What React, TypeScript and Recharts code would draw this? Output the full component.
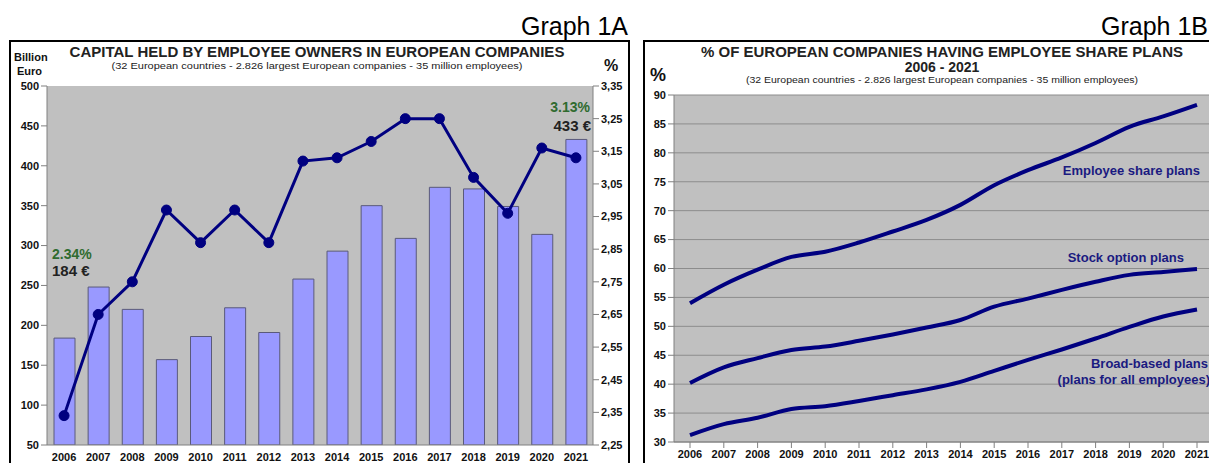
import React from "react";
import {
  ComposedChart,
  Bar,
  Line,
  XAxis,
  YAxis,
  CartesianGrid,
} from "recharts";

// ---------- Data ----------
const years = ["2006","2007","2008","2009","2010","2011","2012","2013","2014","2015","2016","2017","2018","2019","2020","2021"];

// Graph 1A
const capitalBillionEuro = [184, 248, 220, 157, 186, 222, 191, 258, 293, 350, 309, 373, 371, 349, 314, 433];
const capitalSharePct = [2.34, 2.65, 2.75, 2.97, 2.87, 2.97, 2.87, 3.12, 3.13, 3.18, 3.25, 3.25, 3.07, 2.96, 3.16, 3.13];
const leftTicks = [50, 100, 150, 200, 250, 300, 350, 400, 450, 500];
const rightTicks = [2.25, 2.35, 2.45, 2.55, 2.65, 2.75, 2.85, 2.95, 3.05, 3.15, 3.25, 3.35];

// Graph 1B
const employeeSharePlans = [54, 57.2, 59.8, 62, 62.9, 64.5, 66.4, 68.4, 71, 74.4, 77, 79.2, 81.7, 84.5, 86.3, 88.3];
const stockOptionPlans = [40.2, 42.9, 44.5, 45.9, 46.5, 47.5, 48.6, 49.8, 51.1, 53.4, 54.8, 56.3, 57.7, 58.9, 59.4, 59.9];
const broadBasedPlans = [31.2, 33.1, 34.2, 35.7, 36.2, 37.1, 38.1, 39.1, 40.4, 42.3, 44.2, 46.0, 47.9, 49.9, 51.7, 52.9];
const plansTicks = [30, 35, 40, 45, 50, 55, 60, 65, 70, 75, 80, 85, 90];

const capitalData = years.map((y, i) => ({
  year: y,
  capital: capitalBillionEuro[i],
  pct: capitalSharePct[i],
}));

const plansData = years.map((y, i) => ({
  year: y,
  esp: employeeSharePlans[i],
  sop: stockOptionPlans[i],
  bbp: broadBasedPlans[i],
}));

const FONT = "Arial, 'Liberation Sans', sans-serif";
const NAVY = "#000080";
const tickStyle = { fontFamily: FONT, fontSize: 11, fontWeight: 700, fill: "#111" };

const abs = (s: React.CSSProperties): React.CSSProperties => ({
  position: "absolute",
  fontFamily: FONT,
  whiteSpace: "nowrap",
  lineHeight: 1,
  ...s,
});

export default function App() {
  return (
    <div
      style={{
        position: "fixed",
        left: 0,
        top: 0,
        width: 1209,
        height: 463,
        overflow: "hidden",
        background: "#fff",
        fontFamily: FONT,
      }}
    >
      {/* Panel frames */}
      <div style={{ position: "absolute", left: 9, top: 40, width: 617, height: 440, border: "2px solid #000" }} />
      <div style={{ position: "absolute", left: 643, top: 40, width: 600, height: 440, border: "2px solid #000" }} />

      {/* Graph headers */}
      <div style={abs({ left: 420, width: 208, top: 14, fontSize: 25, textAlign: "right", color: "#000" })}>Graph 1A</div>
      <div style={abs({ left: 1101, top: 14, fontSize: 25, color: "#000" })}>Graph 1B</div>

      {/* Left chart */}
      <div style={{ position: "absolute", left: 0, top: 0 }}>
        <ComposedChart
          width={628}
          height={463}
          data={capitalData}
          margin={{ top: 86, right: 0, bottom: 0, left: 10 }}
        >
          <CartesianGrid fill="#c0c0c0" horizontal={false} vertical={false} />
          <XAxis
            dataKey="year"
            height={18}
            tickLine={false}
            axisLine={{ stroke: "#808080" }}
            tick={tickStyle}
            interval={0}
          />
          <YAxis
            yAxisId="left"
            width={37}
            domain={[50, 500]}
            ticks={leftTicks}
            axisLine={{ stroke: "#808080" }}
            tickLine={{ stroke: "#808080" }}
            tick={tickStyle}
            allowDataOverflow
          />
          <YAxis
            yAxisId="right"
            orientation="right"
            width={35}
            domain={[2.25, 3.35]}
            ticks={rightTicks}
            axisLine={{ stroke: "#808080" }}
            tickLine={{ stroke: "#808080" }}
            tick={tickStyle}
            tickFormatter={(v: number) => v.toFixed(2).replace(".", ",")}
            allowDataOverflow
          />
          <Bar
            yAxisId="left"
            dataKey="capital"
            barSize={21}
            fill="#9999ff"
            stroke="#5a5a7a"
            strokeWidth={1}
            isAnimationActive={false}
          />
          <Line
            yAxisId="right"
            dataKey="pct"
            stroke={NAVY}
            strokeWidth={3}
            dot={{ r: 5, fill: NAVY, stroke: NAVY, strokeWidth: 1 }}
            isAnimationActive={false}
          />
        </ComposedChart>
      </div>

      {/* Left titles */}
      <div style={abs({ left: 14, top: 52, fontSize: 11, fontWeight: 700, color: "#111" })}>Billion</div>
      <div style={abs({ left: 17, top: 66, fontSize: 11, fontWeight: 700, color: "#111" })}>Euro</div>
      <div style={abs({ left: 604, top: 58, fontSize: 16, fontWeight: 700, color: "#111" })}>%</div>
      <div style={abs({ left: 40, width: 554, top: 44, fontSize: 15, fontWeight: 700, textAlign: "center", color: "#222" })}>
        CAPITAL HELD BY EMPLOYEE OWNERS IN EUROPEAN COMPANIES
      </div>
      <div style={abs({ left: 40, width: 554, top: 61, fontSize: 11, textAlign: "center", color: "#222", transform: "scaleY(0.85)" })}>
        (32 European countries - 2.826 largest European companies - 35 million employees)
      </div>

      {/* Left annotations */}
      <div style={abs({ left: 52, top: 247, fontSize: 14, fontWeight: 700, color: "#2f6b2f" })}>
        {`${capitalSharePct[0].toFixed(2)}%`}
      </div>
      <div style={abs({ left: 52, top: 263, fontSize: 15, fontWeight: 700, color: "#222" })}>
        {`${capitalBillionEuro[0]} €`}
      </div>
      <div style={abs({ left: 480, width: 110, top: 100, fontSize: 14, fontWeight: 700, textAlign: "right", color: "#2f6b2f" })}>
        {`${capitalSharePct[capitalSharePct.length - 1].toFixed(2)}%`}
      </div>
      <div style={abs({ left: 480, width: 111, top: 118, fontSize: 15, fontWeight: 700, textAlign: "right", color: "#222" })}>
        {`${capitalBillionEuro[capitalBillionEuro.length - 1]} €`}
      </div>

      {/* Right chart */}
      <div style={{ position: "absolute", left: 644, top: 0 }}>
        <ComposedChart
          width={580}
          height={463}
          data={plansData}
          margin={{ top: 95, right: 9, bottom: 0, left: 0 }}
        >
          <CartesianGrid fill="#c0c0c0" vertical={false} stroke="#8c8c8c" horizontalValues={plansTicks} />
          <XAxis
            dataKey="year"
            height={21}
            padding={{ left: 16, right: 18 }}
            axisLine={{ stroke: "#808080" }}
            tickLine={{ stroke: "#808080" }}
            tick={tickStyle}
            interval={0}
          />
          <YAxis
            width={30}
            domain={[30, 90]}
            ticks={plansTicks}
            axisLine={{ stroke: "#808080" }}
            tickLine={{ stroke: "#808080" }}
            tick={tickStyle}
          />
          <Line dataKey="esp" type="monotone" stroke={NAVY} strokeWidth={4} dot={false} isAnimationActive={false} />
          <Line dataKey="sop" type="monotone" stroke={NAVY} strokeWidth={4} dot={false} isAnimationActive={false} />
          <Line dataKey="bbp" type="monotone" stroke={NAVY} strokeWidth={4} dot={false} isAnimationActive={false} />
        </ComposedChart>
      </div>

      {/* Right titles */}
      <div style={abs({ left: 650, top: 66, fontSize: 18, fontWeight: 700, color: "#111" })}>%</div>
      <div style={abs({ left: 680, width: 524, top: 44, fontSize: 15, fontWeight: 700, textAlign: "center", color: "#222" })}>
        % OF EUROPEAN COMPANIES HAVING EMPLOYEE SHARE PLANS
      </div>
      <div style={abs({ left: 680, width: 524, top: 60, fontSize: 14, fontWeight: 700, textAlign: "center", color: "#222" })}>
        2006 - 2021
      </div>
      <div style={abs({ left: 680, width: 524, top: 75, fontSize: 10.5, textAlign: "center", color: "#222", transform: "scaleY(0.85)" })}>
        (32 European countries - 2.826 largest European companies - 35 million employees)
      </div>

      {/* Right series labels */}
      <div style={abs({ left: 1000, width: 200, top: 164, fontSize: 13, fontWeight: 700, textAlign: "right", color: "#1a1a80" })}>
        Employee share plans
      </div>
      <div style={abs({ left: 1000, width: 184, top: 251, fontSize: 13, fontWeight: 700, textAlign: "right", color: "#1a1a80" })}>
        Stock option plans
      </div>
      <div style={abs({ left: 1000, width: 208, top: 357, fontSize: 13, fontWeight: 700, textAlign: "right", color: "#1a1a80" })}>
        Broad-based plans
      </div>
      <div style={abs({ left: 1000, width: 210, top: 373, fontSize: 13, fontWeight: 700, textAlign: "right", color: "#1a1a80" })}>
        (plans for all employees)
      </div>
    </div>
  );
}
